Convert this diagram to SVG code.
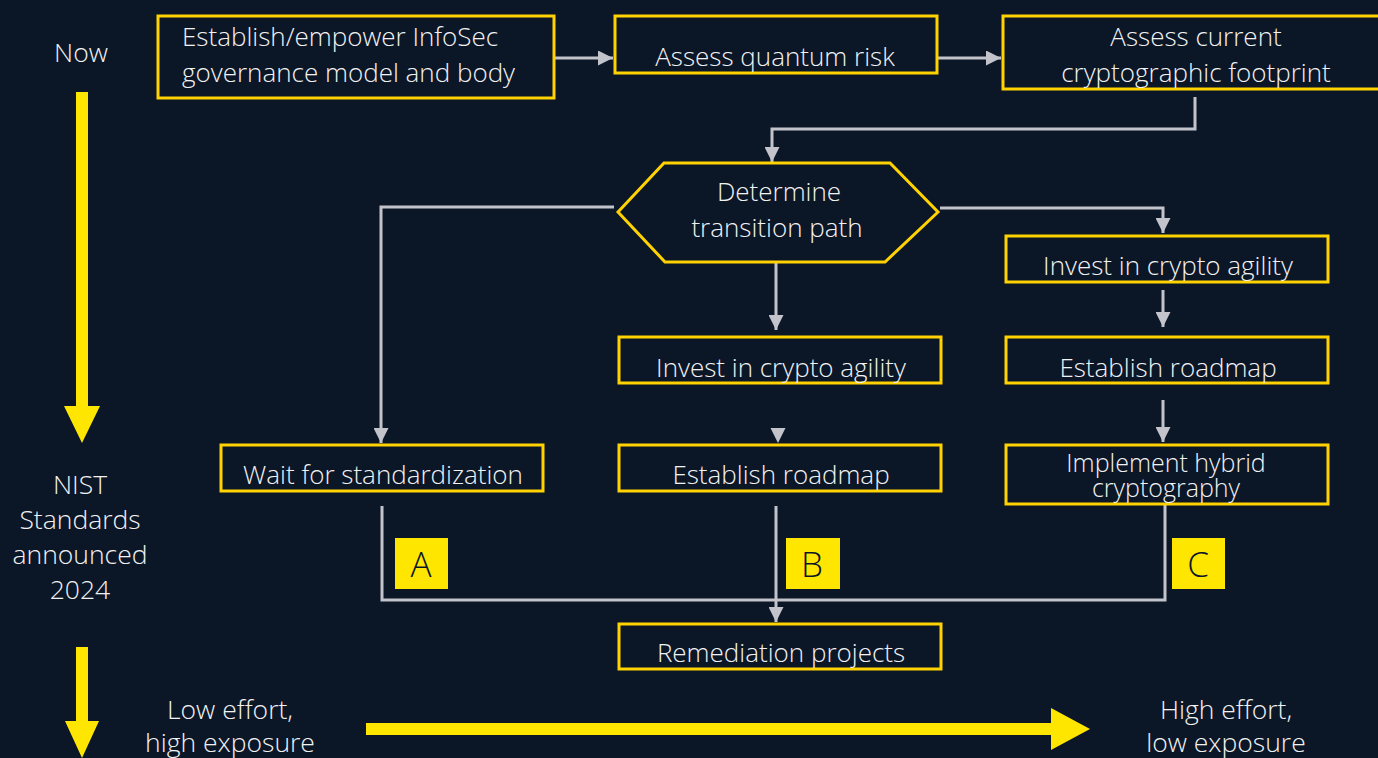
<svg xmlns="http://www.w3.org/2000/svg" width="1378" height="758" viewBox="0 0 1378 758">
  <defs>
    <style>
      .bg { fill: #0b1627; }
      .box { fill: #0b1627; stroke: #ffd200; stroke-width: 3; }
      .t { font-family: "Open Sans", Lato, "Liberation Sans", sans-serif; font-weight: 300; font-size: 26px; fill: #f2f2f2; text-anchor: middle; }
      .ts { text-anchor: start; }
      .side { font-family: "Open Sans", Lato, "Liberation Sans", sans-serif; font-weight: 300; font-size: 26.5px; fill: #f2f2f2; text-anchor: middle; }
      .conn { fill: none; stroke: #c3c4cb; stroke-width: 3; }
      .head { fill: #c3c4cb; }
      .tag { fill: #ffe600; }
      .tagt { font-family: "Open Sans", Lato, "Liberation Sans", sans-serif; font-weight: 300; font-size: 35px; fill: #0b1627; text-anchor: middle; }
      .ybar { fill: #ffe600; }
    </style>
    <marker id="arr" markerUnits="userSpaceOnUse" markerWidth="15" markerHeight="15" viewBox="0 0 15 15" refX="15" refY="7.5" orient="auto">
      <path d="M0,0 L15,7.5 L0,15 z" fill="#c3c4cb"/>
    </marker>
  </defs>

  <rect class="bg" x="0" y="0" width="1378" height="758"/>

  <!-- timeline on the left -->
  <g id="timeline">
    <text class="side" x="81" y="62">Now</text>
    <polygon class="ybar" points="76,92 88,92 88,406 100,406 82,443 64,406 76,406"/>
    <text class="side" x="80" y="494">NIST</text>
    <text class="side" x="80" y="529">Standards</text>
    <text class="side" x="80" y="564">announced</text>
    <text class="side" x="80" y="599">2024</text>
    <polygon class="ybar" points="76,647 88,647 88,721 99,721 82,758 65,721 76,721"/>
  </g>

  <!-- effort / exposure scale -->
  <g id="effort-scale">
    <text class="side" x="230" y="719">Low effort,</text>
    <text class="side" x="230" y="752">high exposure</text>
    <polygon class="ybar" points="366,723 1051,723 1051,708 1090,729 1051,750 1051,735 366,735"/>
    <text class="side" x="1226" y="719">High effort,</text>
    <text class="side" x="1226" y="752">low exposure</text>
  </g>

  <!-- connectors -->
  <g id="connectors">
    <path class="conn" d="M554,58 L613,58" marker-end="url(#arr)"/>
    <path class="conn" d="M937,58 L1001,58" marker-end="url(#arr)"/>
    <path class="conn" d="M1195,97 L1195,129 L772,129 L772,162" marker-end="url(#arr)"/>
    <path class="conn" d="M614,207 L381,207 L381,443" marker-end="url(#arr)"/>
    <path class="conn" d="M776,262 L776,330" marker-end="url(#arr)"/>
    <path class="conn" d="M940,208 L1163,208 L1163,233" marker-end="url(#arr)"/>
    <polygon class="head" points="770.5,428 785.5,428 778,443"/>
    <path class="conn" d="M1163,290 L1163,327" marker-end="url(#arr)"/>
    <path class="conn" d="M1163,400 L1163,442" marker-end="url(#arr)"/>
    <path class="conn" d="M382,506 L382,600 L1165,600 L1165,504"/>
    <path class="conn" d="M776,506 L776,622" marker-end="url(#arr)"/>
  </g>

  <g id="n-governance">
    <rect class="box" x="158" y="16" width="396" height="82"/>
    <text class="t ts" x="182" y="46">Establish/empower InfoSec</text>
    <text class="t ts" x="182" y="82">governance model and body</text>
  </g>

  <g id="n-quantum-risk">
    <rect class="box" x="615" y="16" width="322" height="57"/>
    <text class="t" x="775" y="66">Assess quantum risk</text>
  </g>

  <g id="n-footprint">
    <rect class="box" x="1003" y="16" width="380" height="73"/>
    <text class="t" x="1196" y="46">Assess current</text>
    <text class="t" x="1196" y="82">cryptographic footprint</text>
  </g>

  <g id="n-transition">
    <polygon class="box" points="618,212 664,163 890,163 938,212 885,262 665,262"/>
    <text class="t" x="779" y="201">Determine</text>
    <text class="t" x="777" y="237">transition path</text>
  </g>

  <g id="n-wait">
    <rect class="box" x="221" y="445" width="322" height="46"/>
    <text class="t" x="383" y="484">Wait for standardization</text>
  </g>

  <g id="n-agility-b">
    <rect class="box" x="619" y="337" width="322" height="46"/>
    <text class="t" x="781" y="377">Invest in crypto agility</text>
  </g>

  <g id="n-roadmap-b">
    <rect class="box" x="619" y="445" width="322" height="46"/>
    <text class="t" x="781" y="484">Establish roadmap</text>
  </g>

  <g id="n-agility-c">
    <rect class="box" x="1006" y="236" width="322" height="46"/>
    <text class="t" x="1168" y="275">Invest in crypto agility</text>
  </g>

  <g id="n-roadmap-c">
    <rect class="box" x="1006" y="337" width="322" height="46"/>
    <text class="t" x="1168" y="377">Establish roadmap</text>
  </g>

  <g id="n-hybrid">
    <rect class="box" x="1006" y="445" width="322" height="59"/>
    <text class="t" x="1166" y="472" style="font-size:25px">Implement hybrid</text>
    <text class="t" x="1166" y="497" style="font-size:25px">cryptography</text>
  </g>

  <g id="n-remediation">
    <rect class="box" x="619" y="624" width="322" height="45"/>
    <text class="t" x="781" y="662">Remediation projects</text>
  </g>

  <!-- path labels -->
  <g id="tag-a">
    <rect class="tag" x="395" y="538" width="53" height="51"/>
    <text class="tagt" x="421" y="577">A</text>
  </g>
  <g id="tag-b">
    <rect class="tag" x="786" y="538" width="54" height="51"/>
    <text class="tagt" x="812" y="577">B</text>
  </g>
  <g id="tag-c">
    <rect class="tag" x="1172" y="538" width="53" height="51"/>
    <text class="tagt" x="1198" y="577">C</text>
  </g>
</svg>
